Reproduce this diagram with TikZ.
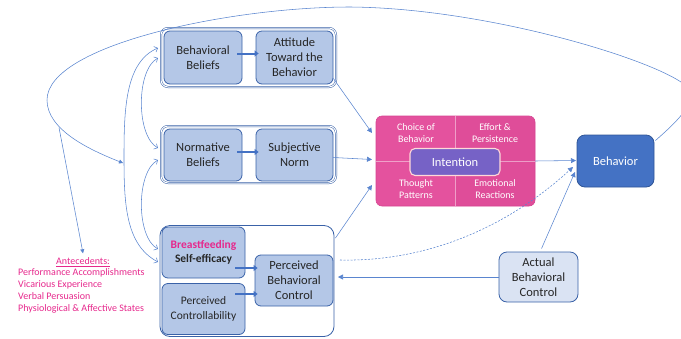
\documentclass[tikz,border=0pt]{standalone}
\usepackage{fontspec}
\setmainfont{Carlito}
\usetikzlibrary{arrows.meta,calc}
\definecolor{boxfill}{HTML}{B4C7E7}
\definecolor{boxline}{HTML}{3A62A8}
\definecolor{conn}{HTML}{5A85CF}
\definecolor{thick}{HTML}{4472C4}
\definecolor{pinktext}{HTML}{E6288C}
\definecolor{intpink}{HTML}{E4529E}
\definecolor{intpinkd}{HTML}{D64592}
\definecolor{intviolet}{HTML}{7662C6}
\definecolor{lightbox}{HTML}{DAE3F3}
\definecolor{behfill}{HTML}{4472C4}
\definecolor{behline}{HTML}{2F5597}
\begin{document}
\begin{tikzpicture}[x=1pt,y=-1pt,
  bx/.style={rounded corners=6pt, fill=boxfill, draw=boxline, line width=0.8pt,
    align=center, inner sep=0pt, text=black!85,
    font=\fontsize{12.5}{15}\selectfont},
  grp/.style={rounded corners=7pt, draw=boxline, line width=0.5pt,
    double=white, double distance=1pt, inner sep=0pt},
  cl/.style={draw=conn, line width=0.55pt},
  tip/.style={-{Triangle[length=5pt,width=5pt]}},
  twoway/.style={{Straight Barb[length=3pt,width=6pt]}-{Straight Barb[length=3pt,width=6pt]}},
  thickarrow/.style={draw=thick, line width=2pt, -{Triangle[length=4pt,width=6pt]}},
  qtext/.style={align=center, text=white, inner sep=0pt, font=\fontsize{10}{11.5}\selectfont}
]
\useasboundingbox (0,0) rectangle (681,338);

% ---------- groups ----------
\node[grp, minimum width=175pt, minimum height=59pt] (g1) at (248.5,57.5) {};
\node[grp, minimum width=175pt, minimum height=57pt] (g2) at (248.5,154.5) {};
\node[rounded corners=10pt, draw=boxline, line width=0.8pt, fill=white,
      minimum width=174pt, minimum height=111pt, inner sep=0pt] (g3) at (247,281) {};

% ---------- boxes ----------
\node[bx, minimum width=78pt, minimum height=53pt] (bb) at (203,57.5) {Behavioral\\Beliefs};
\node[bx, minimum width=77pt, minimum height=53pt] (atb) at (294.5,57.5) {Attitude\\Toward the\\Behavior};
\node[bx, minimum width=78pt, minimum height=52pt] (nb) at (203,155) {Normative\\Beliefs};
\node[bx, minimum width=77pt, minimum height=52pt] (sn) at (294.5,155) {Subjective\\Norm};
\node[bx, minimum width=83pt, minimum height=51pt,
      font=\fontsize{11.5}{14}\selectfont\bfseries] (se) at (203.5,252.5)
      {\textcolor{pinktext}{Breastfeeding}\\Self-efficacy};
\node[bx, minimum width=83pt, minimum height=51pt,
      font=\fontsize{11.5}{15}\selectfont] (pc) at (203.5,309) {Perceived\\Controllability};
\node[bx, minimum width=78pt, minimum height=51pt] (pbc) at (294,280.5) {Perceived\\Behavioral\\Control};

\node[bx, fill=lightbox, draw=boxline, rounded corners=8pt,
      minimum width=79pt, minimum height=50pt] (abc) at (538.5,277) {Actual\\Behavioral\\Control};

\node[bx, fill=behfill, draw=behline, text=white, rounded corners=8pt,
      minimum width=77pt, minimum height=52pt] (beh) at (615.5,161) {Behavior};

% ---------- intention ----------
\node[rounded corners=6pt, fill=intpink, draw=intpinkd, line width=0.6pt,
      minimum width=159pt, minimum height=90pt, inner sep=0pt] (int) at (455.5,161) {};
\fill[intpinkd, opacity=0.35] (455.5,117) -- (529,117) arc[start angle=90,end angle=0,radius=6pt]
   -- (535,200) arc[start angle=0,end angle=-90,radius=6pt] -- (455.5,206) -- cycle;
\draw[white, opacity=0.45, line width=0.9pt] (int.north) -- (int.south);
\draw[white, opacity=0.45, line width=0.9pt] (int.west) -- (int.east);
\node[qtext] (q1) at (416,133) {Choice of\\Behavior};
\node[qtext] (q2) at (495,133) {Effort \&\\Persistence};
\node[qtext] (q3) at (416,189) {Thought\\Patterns};
\node[qtext] (q4) at (495,189) {Emotional\\Reactions};
\node[rounded corners=5pt, fill=intviolet, draw=pink!60!white, line width=1.1pt,
      minimum width=90pt, minimum height=27pt, inner sep=0pt, text=white,
      font=\fontsize{12.5}{15}\selectfont] (intc) at (455,162) {Intention};

% ---------- antecedents ----------
\node[text=pinktext, inner sep=0pt, font=\fontsize{10}{12}\selectfont] (ant) at (83,262) {\underline{Antecedents:}};
\node[text=pinktext, inner sep=0pt, anchor=west, align=left, font=\fontsize{10}{12}\selectfont] (antl) at (18,291)
  {Performance Accomplishments\\Vicarious Experience\\Verbal Persuasion\\Physiological \& Affective States};

% ---------- thick inner arrows ----------
\draw[thickarrow] ($(bb.east)+(-5,-4)$) -- ($(atb.west)+(3,-4)$);
\draw[thickarrow] ($(nb.east)+(-5,-3)$) -- ($(sn.west)+(3,-3)$);
\draw[thickarrow] ($(se.east)+(-10,15.5)$) -- ($(pbc.west)+(3,-12.5)$);
\draw[thickarrow] ($(pc.east)+(-10,-15)$) -- ($(pbc.west)+(3,13.5)$);

% ---------- connectors ----------
\coordinate (i1) at (372,133);
\coordinate (i2) at (372,159.5);
\coordinate (i3) at (372,185);
\coordinate (b1) at (576,160.5);
\coordinate (b2) at (573,167);
\coordinate (b3) at (575,172);
\coordinate (p1) at (338,277);
\draw[cl,tip] ($(atb.east)+(0,21)$) -- (i1);
\draw[cl,tip] ($(sn.east)+(0,2.5)$) -- (i2);
\draw[cl,tip] ($(g3.north east)+(1,13)$) -- (i3);
\draw[cl,tip] (int.east) -- (b1);
\draw[cl,tip,dashed,dash pattern=on 2pt off 1.5pt] (340,260) .. controls (430,262) and (510,225) .. (b2);
\draw[cl,tip] (abc.north) ++(3,-3) -- (b3);
\draw[cl,tip] (abc.west) -- (p1);

% ---------- belief curves ----------
\coordinate (bbA) at (158,48);
\coordinate (bbB) at (158,58);
\coordinate (nbA) at (158,148);
\coordinate (nbB) at (158,160);
\coordinate (seA) at (158,249);
\coordinate (seB) at (158,262);
\draw[cl,twoway] (bbA) .. controls (125,62) and (124,110) .. (124,158)
   .. controls (124,205) and (126,245) .. (seB);
\draw[cl,twoway] (bbB) .. controls (136,70) and (136,136) .. (nbA);
\draw[cl,twoway] (nbB) .. controls (136,172) and (136,237) .. (seA);

% ---------- feedback loop ----------
\coordinate (fb) at (123,163);
\coordinate (br) at (59,127.5);
\draw[cl,-{Triangle[length=4pt,width=4pt]}] ($(beh.north east)+(1,6)$) .. controls (675,123) and (705,98) .. (681,82)
   .. controls (640,55) and (480,8) .. (350,7)
   .. controls (230,7) and (47,45) .. (47,100)
   .. controls (47,130) and (90,150) .. (fb);
\draw[cl,-{Triangle[length=4pt,width=4pt]}] (br) -- ($(ant.north)+(0,-4)$);
\end{tikzpicture}
\end{document}
